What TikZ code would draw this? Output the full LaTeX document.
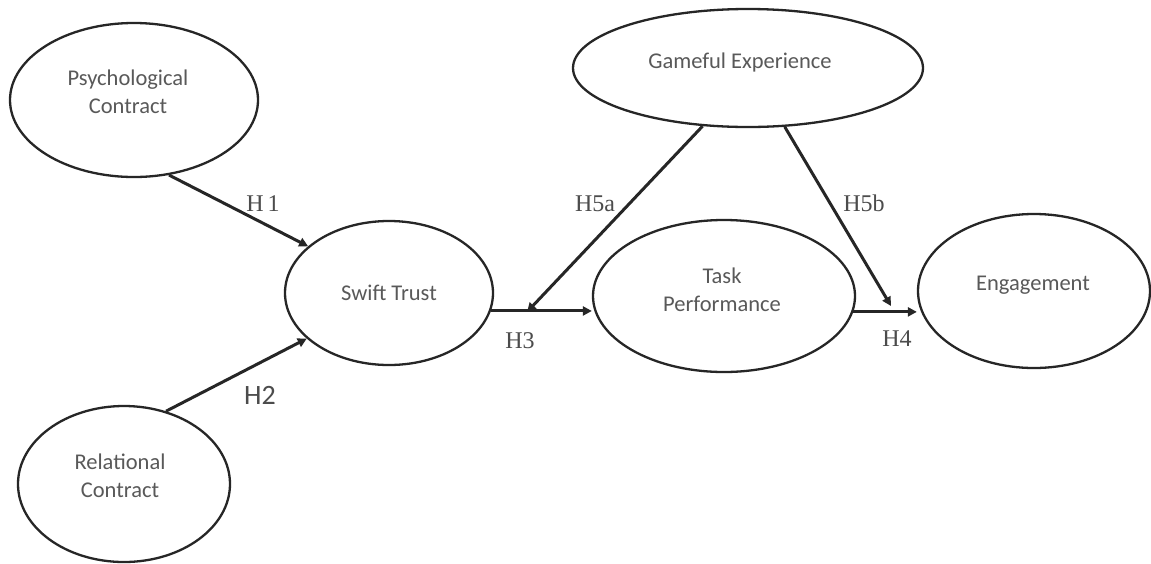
\documentclass[tikz,border=0pt]{standalone}
\usepackage{fontspec}
\setmainfont{Carlito}
\newfontfamily\seriffont{Liberation Serif}
\usetikzlibrary{shapes.geometric,arrows.meta}
\begin{document}
\begin{tikzpicture}[x=1pt,y=-1pt,
  construct/.style={draw=black!85,line width=2.3pt,ellipse,inner sep=0pt},
  ctext/.style={text=black!65,font=\fontsize{22.5}{27.5}\selectfont,align=center},
  path/.style={draw=black!85,line width=3pt,-{Triangle[length=9pt,width=9pt]}},
  hlab/.style={text=black!70,font=\seriffont\fontsize{24}{26}\selectfont},
  hlabs/.style={text=black!70,font=\fontsize{28}{30}\selectfont}]
\useasboundingbox (0,0) rectangle (1151,563);
\fill[white] (0,0) rectangle (1151,563);
% constructs
\node[construct,minimum width=248pt,minimum height=154pt] (pc) at (134,100) {};
\node[construct,minimum width=212pt,minimum height=156pt] (rc) at (124,484) {};
\node[construct,minimum width=208pt,minimum height=144pt] (st) at (389,293) {};
\node[construct,minimum width=262pt,minimum height=152pt] (tp) at (724,296) {};
\node[construct,minimum width=350pt,minimum height=118pt] (ge) at (748,68) {};
\node[construct,minimum width=232pt,minimum height=154pt] (en) at (1034,291) {};
% texts
\node[ctext] (pct) at (128,92) {Psychological\\Contract};
\node[ctext] (rct) at (120,476) {Relational\\Contract};
\node[ctext] (stt) at (389,293) {Swift Trust};
\node[ctext] (tpt) at (722,290) {Task\\Performance};
\node[ctext] (get) at (740,62) {Gameful Experience};
\node[ctext] (ent) at (1033,285) {Engagement};
% moderation points
\coordinate (m1) at (527,312);
\coordinate (m2) at (891,306);
% paths
\draw[path] (pc.-65) -- (st.150);
\draw[path] (rc.60) -- (st.209);
\draw[path] (st.-10) -- (st.-10 -| tp.west);
\draw[path] (ge.-128) -- (m1);
\draw[path] (ge.-58) -- (m2);
\draw[path] (tp.-7) -- (tp.-7 -| en.west);
% labels
\node[hlab] (h1) at (263,204) {H\,1};
\node[hlabs] (h2) at (260,395) {H2};
\node[hlab] (h3) at (520,341) {H3};
\node[hlab] (h4) at (897,339) {H4};
\node[hlab] (h5a) at (595,204) {H5a};
\node[hlab] (h5b) at (864,203) {H5b};
\end{tikzpicture}
\end{document}
